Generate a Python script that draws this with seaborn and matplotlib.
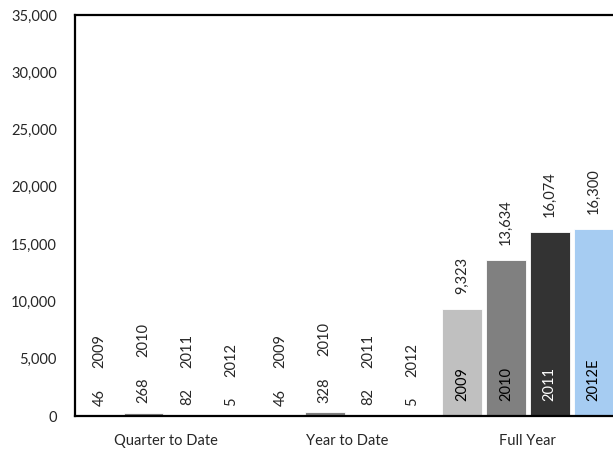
import pandas as pd
import matplotlib.pyplot as plt
import matplotlib.ticker as mticker
import seaborn as sns

# ---- Data ----
groups = ["Quarter to Date", "Year to Date", "Full Year"]
years = ["2009", "2010", "2011", "2012"]
qtd_values = [46, 268, 82, 5]
ytd_values = [46, 328, 82, 5]
fy_values = [9323, 13634, 16074, 16300]
fy_year_labels = ["2009", "2010", "2011", "2012E"]
colors = ["#C0C0C0", "#808080", "#333333", "#99CCFF"]

rows = []
for g, vals in zip(groups, [qtd_values, ytd_values, fy_values]):
    for y, v in zip(years, vals):
        rows.append({"Group": g, "Year": y, "Value": v})
df = pd.DataFrame(rows)

# ---- Plot ----
sns.set_style("white")
plt.rcParams["font.family"] = ["Lato", "DejaVu Sans"]

fig = plt.figure(figsize=(6.13, 4.49), dpi=100)
ax = fig.add_axes([75 / 613, 33 / 449, 538 / 613, 401 / 449])

sns.barplot(
    data=df, x="Group", y="Value", hue="Year",
    order=groups, hue_order=years,
    palette=dict(zip(years, colors)),
    width=0.97, gap=0.1, edgecolor="white", linewidth=0.6,
    legend=False, ax=ax,
)

ax.set_xlim(-0.5, 2.47)
ax.set_ylim(0, 35000)
ax.set_yticks(range(0, 35001, 5000))
ax.yaxis.set_major_formatter(mticker.FuncFormatter(lambda v, p: f"{v:,.0f}"))
ax.set_xlabel("")
ax.set_ylabel("")
ax.tick_params(axis="y", length=0, pad=13, labelsize=10.5)
ax.tick_params(axis="x", length=0, pad=13, labelsize=10.5)

for side in ["left", "bottom", "top"]:
    ax.spines[side].set_color("#000000")
    ax.spines[side].set_linewidth(1.6)
ax.spines["right"].set_visible(False)

# ---- Labels ----
for i, cont in enumerate(ax.containers):
    for j, bar in enumerate(cont):
        x = bar.get_x() + bar.get_width() / 2
        h = bar.get_height()
        if groups[j] == "Full Year":
            ax.annotate(f"{h:,.0f}", (x, h), xytext=(0, 11), textcoords="offset points",
                        ha="center", va="bottom", rotation=90, fontsize=10.5)
            ax.annotate(fy_year_labels[i], (x, 0), xytext=(0, 11), textcoords="offset points",
                        ha="center", va="bottom", rotation=90, fontsize=10.5,
                        color="white" if years[i] == "2011" else "black")
        else:
            val = ax.annotate(f"{h:,.0f}", (x, h), xytext=(0, 7), textcoords="offset points",
                              ha="center", va="bottom", rotation=90, fontsize=10.5)
            ax.annotate(years[i], (0.5, 1), xycoords=val, xytext=(0, 15),
                        textcoords="offset points", ha="center", va="bottom",
                        rotation=90, fontsize=10.5)

fig.savefig("out.png", dpi=100)
